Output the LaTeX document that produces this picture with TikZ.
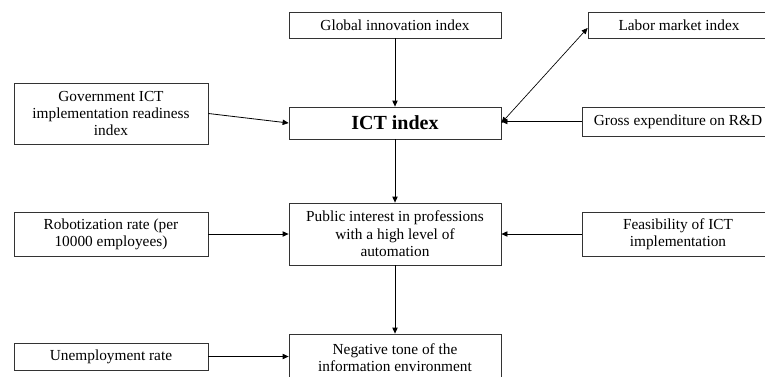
\documentclass[tikz,border=0pt]{standalone}
\usepackage{fontspec}
\setmainfont{Liberation Serif}
\usetikzlibrary{arrows.meta}
\begin{document}
\begin{tikzpicture}[
  x=0.75pt, y=-0.75pt,
  box/.style={rectangle, draw=black!80, line width=0.6pt, inner sep=2pt, align=center, font=\fontsize{11.5}{13}\selectfont},
  arrow/.style={-{Triangle[length=4.5pt, width=4pt]}, line width=0.6pt},
  biarrow/.style={{Triangle[length=4.5pt, width=4pt]}-{Triangle[length=4.5pt, width=4pt]}, line width=0.5pt}
]
  \useasboundingbox (0,0) rectangle (765,376);

  % Top row
  \node[box, minimum width=159pt, minimum height=19.5pt] (glob) at (395,25) {Global innovation index};
  \node[box, minimum width=136.5pt, minimum height=19.5pt] (labor) at (679,25) {Labor market index};

  % ICT index row
  \node[box, minimum width=145.5pt, minimum height=45.75pt] (gov) at (111,113.5) {Government ICT\\implementation readiness\\index};
  \node[box, minimum width=159pt, minimum height=24pt, font=\fontsize{15}{18}\selectfont\bfseries] (ict) at (395,123) {ICT index};
  \node[box, minimum width=144pt, minimum height=21.75pt] (gross) at (678,121.5) {Gross expenditure on R\&D};

  % Public interest row
  \node[box, minimum width=145.5pt, minimum height=33pt] (robot) at (111,234) {Robotization rate (per\\10000 employees)};
  \node[box, minimum width=159pt, minimum height=46.5pt] (public) at (395,234) {Public interest in professions\\with a high level of\\automation};
  \node[box, minimum width=144pt, minimum height=33pt] (feas) at (678,234) {Feasibility of ICT\\implementation};

  % Bottom row
  \node[box, minimum width=145.5pt, minimum height=20.25pt] (unemp) at (111,356.5) {Unemployment rate};
  \node[box, minimum width=159pt, minimum height=36pt] (neg) at (395,358) {Negative tone of the\\information environment};

  % Arrows into ICT index
  \draw[arrow] (glob.south) -- (ict.north);
  \draw[arrow] (gov.east) -- (ict.west);
  \draw[arrow] (gross.west) -- (gross.west -| ict.east);
  \draw[biarrow] (ict.east) -- ([yshift=-2.25pt]labor.west);

  % Arrows into public interest
  \draw[arrow] (ict.south) -- (public.north);
  \draw[arrow] (robot.east) -- (public.west);
  \draw[arrow] (feas.west) -- (public.east);

  % Arrows into negative tone
  \draw[arrow] (public.south) -- (neg.north);
  \draw[arrow] (unemp.east) -- (unemp.east -| neg.west);
\end{tikzpicture}
\end{document}
